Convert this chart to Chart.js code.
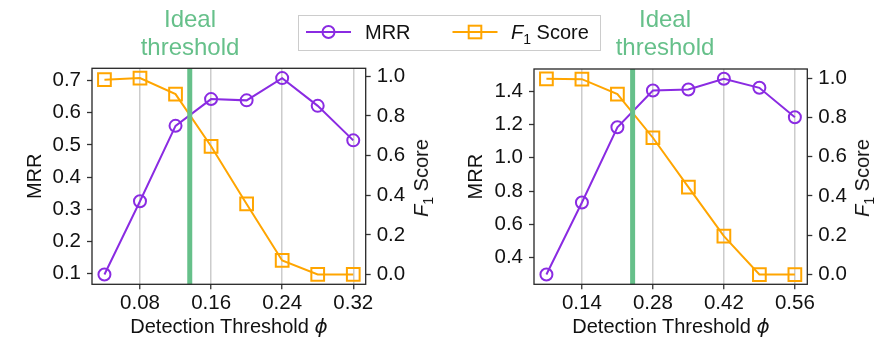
<!DOCTYPE html>
<html>
<head>
<meta charset="utf-8">
<script src="https://cdn.jsdelivr.net/npm/chart.js@4/dist/chart.umd.min.js"></script>
<style>
  html, body { margin: 0; padding: 0; background: #fff; }
  body { width: 890px; height: 338px; position: relative; overflow: hidden;
         font-family: "Liberation Sans", Arial, sans-serif; color: #111; }
  .panel { position: absolute; top: 0; width: 445px; height: 338px; }
  .ann { position: absolute; top: 5px; width: 140px; margin-left: -70px; text-align: center;
         font-size: 24px; line-height: 27.7px; color: #66c08a; white-space: nowrap; }
  .xtitle { position: absolute; top: 314px; font-size: 20px; line-height: 24px; white-space: nowrap;
            transform: translateX(-50%); color: #111; }
  .ytitle { position: absolute; font-size: 20px; line-height: 24px; white-space: nowrap;
            transform: translate(-50%, -50%) rotate(-90deg); color: #111; }
  .phi { font-family: "DejaVu Sans", sans-serif; font-style: italic; }
  .sub { font-size: 14px; position: relative; top: 5px; }
  #legend { position: absolute; left: 298px; top: 15px; width: 303px; height: 36px;
            border: 1px solid #cccccc; background: rgba(255,255,255,0.85); box-sizing: border-box; }
  #legend .t { position: absolute; top: 4px; font-size: 20px; line-height: 24px; white-space: nowrap; color: #111; }
  #legend svg { position: absolute; left: 0; top: 0; }
</style>
</head>
<body>

<div class="panel" style="left:0"><canvas id="c1" width="445" height="338"></canvas></div>
<div class="panel" style="left:445px"><canvas id="c2" width="445" height="338"></canvas></div>

<div class="ann" style="left:190px">Ideal<br>threshold</div>
<div class="ann" style="left:665px">Ideal<br>threshold</div>

<div class="xtitle" style="left:229px">Detection Threshold <span class="phi">ϕ</span></div>
<div class="xtitle" style="left:671px">Detection Threshold <span class="phi">ϕ</span></div>

<div class="ytitle" style="left:421.5px; top:177.5px"><i>F</i><span class="sub">1</span> Score</div>
<div class="ytitle" style="left:863px; top:177.5px"><i>F</i><span class="sub">1</span> Score</div>

<div id="legend">
  <svg width="303" height="36">
    <line x1="7" y1="16" x2="52" y2="16" stroke="#8a2be2" stroke-width="2"/>
    <circle cx="29.5" cy="16" r="6" fill="none" stroke="#8a2be2" stroke-width="2"/>
    <line x1="153.5" y1="16" x2="198.5" y2="16" stroke="#ffa500" stroke-width="2"/>
    <rect x="169.7" y="9.7" width="12.6" height="12.6" fill="none" stroke="#ffa500" stroke-width="2"/>
  </svg>
  <span class="t" style="left:66px">MRR</span>
  <span class="t" style="left:212px"><i>F</i><span class="sub">1</span> Score</span>
</div>

<script>
// ---------- Data ----------
// Left panel
const xLeft      = [0.04, 0.08, 0.12, 0.16, 0.20, 0.24, 0.28, 0.32];
const mrrLeft    = [0.098, 0.325, 0.559, 0.642, 0.638, 0.707, 0.621, 0.514];
const f1Left     = [0.983, 0.991, 0.910, 0.647, 0.356, 0.071, 0.0, 0.0];
const thrLeft    = 0.136;
const xTicksLeft   = [0.08, 0.16, 0.24, 0.32];
const xLabelsLeft  = ['0.08', '0.16', '0.24', '0.32'];
const mrrTicksLeft  = [0.1, 0.2, 0.3, 0.4, 0.5, 0.6, 0.7];
const mrrLabelsLeft = ['0.1', '0.2', '0.3', '0.4', '0.5', '0.6', '0.7'];

// Right panel
const xRight     = [0.07, 0.14, 0.21, 0.28, 0.35, 0.42, 0.49, 0.56];
const mrrRight   = [0.30, 0.732, 1.183, 1.404, 1.41, 1.474, 1.42, 1.243];
const f1Right    = [0.996, 0.994, 0.918, 0.696, 0.445, 0.195, 0.0, 0.0];
const thrRight   = 0.24;
const xTicksRight   = [0.14, 0.28, 0.42, 0.56];
const xLabelsRight  = ['0.14', '0.28', '0.42', '0.56'];
const mrrTicksRight  = [0.4, 0.6, 0.8, 1.0, 1.2, 1.4];
const mrrLabelsRight = ['0.4', '0.6', '0.8', '1.0', '1.2', '1.4'];

// Shared F1 axis ticks
const f1Ticks  = [0.0, 0.2, 0.4, 0.6, 0.8, 1.0];
const f1Labels = ['0.0', '0.2', '0.4', '0.6', '0.8', '1.0'];

// ---------- Styling ----------
const PURPLE = '#8a2be2';
const ORANGE = '#ffa500';
const GREEN  = '#66c08a';
const FONT   = '"Liberation Sans", Arial, sans-serif';
const TICK_FONT = { family: FONT, size: 20.5 };

function range(arr) {
  const lo = Math.min(...arr), hi = Math.max(...arr);
  const m = (hi - lo) * 0.05;
  return [lo - m, hi + m];
}

const framePlugin = {
  id: 'frameAndThreshold',
  afterDatasetsDraw(chart, args, opts) {
    const ctx = chart.ctx, a = chart.chartArea;
    const x = chart.scales.x.getPixelForValue(opts.threshold);
    ctx.save();
    ctx.strokeStyle = GREEN;
    ctx.lineWidth = 5;
    ctx.beginPath();
    ctx.moveTo(x, a.top);
    ctx.lineTo(x, a.bottom);
    ctx.stroke();
    ctx.strokeStyle = '#262626';
    ctx.lineWidth = 1.3;
    ctx.strokeRect(a.left, a.top, a.right - a.left, a.bottom - a.top);
    ctx.restore();
  }
};

function makePanel(id, xs, mrr, f1, thr, xTicks, xLabels, mTicks, mLabels, geom) {
  const [xMin, xMax] = range(xs);
  const [mMin, mMax] = range(mrr);
  const [fMin, fMax] = range(f1);
  const setTicks = (vals) => (s) => { s.ticks = vals.map(v => ({ value: v })); };
  const lab = (vals, labels) => (v) => { const i = vals.findIndex(t => Math.abs(t - v) < 1e-9); return i >= 0 ? labels[i] : ''; };

  return new Chart(document.getElementById(id), {
    type: 'line',
    data: {
      datasets: [
        {
          label: 'MRR',
          data: xs.map((x, i) => ({ x, y: mrr[i] })),
          yAxisID: 'y',
          borderColor: PURPLE, borderWidth: 2,
          pointStyle: 'circle', pointRadius: 6, pointBorderWidth: 2,
          pointBorderColor: PURPLE, pointBackgroundColor: 'rgba(0,0,0,0)',
          tension: 0, clip: false
        },
        {
          label: 'F1 Score',
          data: xs.map((x, i) => ({ x, y: f1[i] })),
          yAxisID: 'y2',
          borderColor: ORANGE, borderWidth: 2,
          pointStyle: 'rect', pointRadius: 9, pointBorderWidth: 2,
          pointBorderColor: ORANGE, pointBackgroundColor: 'rgba(0,0,0,0)',
          tension: 0, clip: false
        }
      ]
    },
    options: {
      responsive: false,
      animation: false,
      events: [],
      layout: { padding: { top: geom.top, left: 0, right: 0, bottom: 0 } },
      plugins: {
        legend: { display: false },
        tooltip: { enabled: false },
        frameAndThreshold: { threshold: thr }
      },
      scales: {
        x: {
          type: 'linear', position: 'bottom', min: xMin, max: xMax, bounds: 'data',
          afterBuildTicks: setTicks(xTicks),
          afterFit: (s) => { s.height = geom.xh; },
          grid: { display: true, drawOnChartArea: true, color: '#cccccc', lineWidth: 1.5,
                  drawTicks: true, tickLength: 5, tickColor: '#333333', tickWidth: 1.3 },
          border: { display: false },
          ticks: { font: TICK_FONT, color: '#111', padding: 2, maxRotation: 0, autoSkip: false,
                   callback: lab(xTicks, xLabels) }
        },
        y: {
          type: 'linear', position: 'left', min: mMin, max: mMax, bounds: 'data',
          afterBuildTicks: setTicks(mTicks),
          afterFit: (s) => { s.width = geom.yw; },
          grid: { display: true, drawOnChartArea: false, drawTicks: true, tickLength: 5,
                  tickColor: '#333333', tickWidth: 1.3 },
          border: { display: false },
          ticks: { font: TICK_FONT, color: '#111', padding: 6, autoSkip: false,
                   callback: lab(mTicks, mLabels) },
          title: { display: true, text: 'MRR', font: { family: FONT, size: 20 }, color: '#111',
                   padding: { top: geom.titlePad, bottom: 0 } }
        },
        y2: {
          type: 'linear', position: 'right', min: fMin, max: fMax, bounds: 'data',
          afterBuildTicks: setTicks(f1Ticks),
          afterFit: (s) => { s.width = geom.y2w; },
          grid: { display: true, drawOnChartArea: false, drawTicks: true, tickLength: 5,
                  tickColor: '#333333', tickWidth: 1.3 },
          border: { display: false },
          ticks: { font: TICK_FONT, color: '#111', padding: 6, autoSkip: false,
                   callback: lab(f1Ticks, f1Labels) }
        }
      }
    },
    plugins: [framePlugin]
  });
}

makePanel('c1', xLeft, mrrLeft, f1Left, thrLeft, xTicksLeft, xLabelsLeft, mrrTicksLeft, mrrLabelsLeft,
          { top: 68.3, xh: 53.7, yw: 92, y2w: 79.3, titlePad: 23 });
makePanel('c2', xRight, mrrRight, f1Right, thrRight, xTicksRight, xLabelsRight, mrrTicksRight, mrrLabelsRight,
          { top: 69, xh: 53.7, yw: 89, y2w: 82.7, titlePad: 19.5 });
</script>
</body>
</html>
